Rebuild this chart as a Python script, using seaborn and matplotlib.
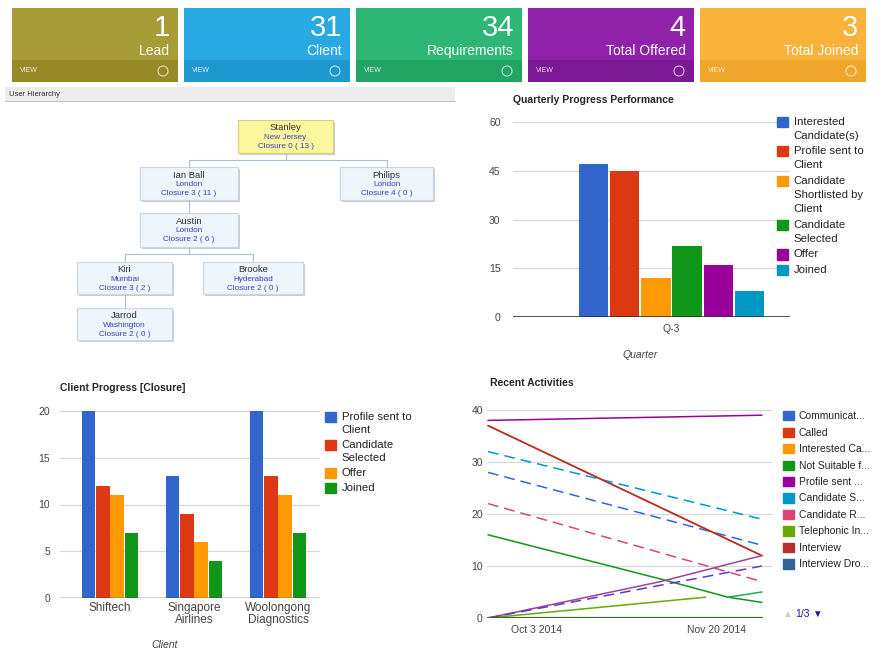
import matplotlib
matplotlib.use("Agg")
import matplotlib.pyplot as plt
from matplotlib.patches import Rectangle, Circle, Patch
import numpy as np
import pandas as pd
import seaborn as sns

nan = np.nan

# KPI tiles
tile_values = [1, 31, 34, 4, 3]
tile_labels = ["Lead", "Client", "Requirements", "Total Offered", "Total Joined"]
tile_colors = ["#a89c36", "#29a9e1", "#2db674", "#8f22a8", "#f9b33a"]
tile_band = ["#978a26", "#1f98d0", "#22a463", "#7b1894", "#f0a52b"]

# user hierarchy
node_names = ["Stanley", "Ian Ball", "Philips", "Austin", "Kiri", "Brooke", "Jarrod"]
node_cities = ["New Jersey", "London", "London", "London", "Mumbai", "Hyderabad", "Washington"]
node_closures = ["Closure 0 ( 13 )", "Closure 3 ( 11 )", "Closure 4 ( 0 )", "Closure 2 ( 6 )",
                 "Closure 3 ( 2 )", "Closure 2 ( 0 )", "Closure 2 ( 0 )"]
node_parents = [None, 0, 0, 1, 3, 3, 4]

# quarterly progress
quarters = ["Q-3"]
quarter_stages = ["Interested Candidate(s)", "Profile sent to Client", "Candidate Shortlisted by Client",
                  "Candidate Selected", "Offer", "Joined"]
quarter_legend = ["Interested\nCandidate(s)", "Profile sent to\nClient", "Candidate\nShortlisted by\nClient",
                  "Candidate\nSelected", "Offer", "Joined"]
quarter_counts = [47, 45, 12, 22, 16, 8]

# client progress
clients = ["Shiftech", "Singapore\nAirlines", "Woolongong\nDiagnostics"]
client_stages = ["Profile sent to Client", "Candidate Selected", "Offer", "Joined"]
client_legend = ["Profile sent to\nClient", "Candidate\nSelected", "Offer", "Joined"]
profile_sent = [20, 13, 20]
cand_selected = [12, 9, 13]
offer = [11, 6, 11]
joined = [7, 4, 7]

# recent activities
act_dates = ["2014-09-20", "2014-11-05", "2014-11-17", "2014-11-23", "2014-12-02"]
communication = [28, nan, nan, nan, 14]
called = [37, nan, nan, nan, 12]
interested = [0, nan, nan, nan, 0]
not_suitable = [16, 7.5, nan, 4, 3]
profile = [38, nan, nan, nan, 39]
cand_short = [32, nan, nan, nan, 19]
cand_rejected = [22, nan, nan, nan, 7]
telephonic = [0, nan, 4, nan, nan]
interview = [37, nan, nan, nan, 12]
interview_drop = [0, nan, nan, nan, 0]
offer_made = [0, 7, nan, nan, 12]
follow_up = [0, nan, nan, nan, 10]
on_hold = [nan, nan, nan, 4, 5]
others = [0, nan, nan, nan, 0]
act_legend = ["Communicat...", "Called", "Interested Ca...", "Not Suitable f...", "Profile sent ...",
              "Candidate S...", "Candidate R...", "Telephonic In...", "Interview", "Interview Dro..."]

W, H = 893, 653
GOOGLE = ["#3366cc", "#dc3912", "#ff9900", "#109618", "#990099", "#0099c6", "#dd4477",
          "#66aa00", "#b82e2e", "#316395"]

sns.set_theme(style="white")
plt.rcParams["font.family"] = ["Liberation Sans", "DejaVu Sans"]


def frac(l, t, r, b):
    return [l / W, 1 - b / H, (r - l) / W, (b - t) / H]


def ftext(x, y, s, **kw):
    fig.text(x / W, 1 - y / H, s, **kw)


def style_axes(ax, yticks, pad):
    ax.set_yticks(yticks)
    ax.grid(axis="y", color="#d6d6d6", lw=0.8)
    ax.grid(axis="x", visible=False)
    ax.set_axisbelow(True)
    for s in ax.spines.values():
        s.set_visible(False)
    ax.tick_params(length=0, labelsize=7.5, colors="#444444")
    ax.tick_params(axis="y", pad=pad)
    ax.set_xlabel("")
    ax.set_ylabel("")


def square_legend(colors, labels, x, y, size, spacing, linesp):
    leg = fig.legend(handles=[Patch(color=c) for c in colors], labels=labels,
                     loc="upper left", bbox_to_anchor=(x / W, 1 - y / H), frameon=False,
                     fontsize=size, handlelength=1.0, handleheight=1.0, handletextpad=0.5,
                     labelspacing=spacing, borderaxespad=0, labelcolor="#222222")
    for t in leg.get_texts():
        t.set_linespacing(linesp)
    # squares next to the first line of wrapped labels
    for col in leg._legend_handle_box.get_children():
        for row in col.get_children():
            row.align = "top"
    return leg


fig = plt.figure(figsize=(W / 100, H / 100), dpi=100)

# overlay for tiles and hierarchy
ov = fig.add_axes([0, 0, 1, 1])
ov.set_xlim(0, W)
ov.set_ylim(H, 0)
ov.axis("off")

for i, (val, lab) in enumerate(zip(tile_values, tile_labels)):
    x0 = 12 + i * 172
    ov.add_patch(Rectangle((x0, 8), 166, 52, color=tile_colors[i], lw=0))
    ov.add_patch(Rectangle((x0, 60), 166, 22, color=tile_band[i], lw=0))
    ov.text(x0 + 158, 28, str(val), ha="right", va="center", fontsize=21, color="white")
    ov.text(x0 + 158, 51, lab, ha="right", va="center", fontsize=10, color="white")
    ov.text(x0 + 8, 71, "VIEW", ha="left", va="center", fontsize=5, color="white", alpha=0.85)
    ov.add_patch(Circle((x0 + 151, 71), 5, fill=False, ec="white", lw=0.8, alpha=0.7))

ov.add_patch(Rectangle((5, 87), 450, 14, fc="#ededed", ec="none"))
ov.plot([5, 455], [101, 101], color="#c4c4c4", lw=0.8)
ov.text(9, 94, "User Hierarchy", fontsize=5.5, color="#333333", va="center")

node_boxes = [(238, 120, 333, 153), (140, 167, 238, 200), (340, 167, 433, 200),
              (140, 213, 238, 247), (77, 262, 172, 294), (203, 262, 303, 294),
              (77, 308, 172, 340)]
line_c = "#a9bfd3"
# connectors
ov.plot([285.5, 285.5], [153, 160], color=line_c, lw=0.8)
ov.plot([189, 386.5], [160, 160], color=line_c, lw=0.8)
ov.plot([189, 189], [160, 167], color=line_c, lw=0.8)
ov.plot([386.5, 386.5], [160, 167], color=line_c, lw=0.8)
ov.plot([189, 189], [200, 213], color=line_c, lw=0.8)
ov.plot([189, 189], [247, 254], color=line_c, lw=0.8)
ov.plot([124.5, 253], [254, 254], color=line_c, lw=0.8)
ov.plot([124.5, 124.5], [254, 262], color=line_c, lw=0.8)
ov.plot([253, 253], [254, 262], color=line_c, lw=0.8)
ov.plot([124.5, 124.5], [294, 308], color=line_c, lw=0.8)

for i, (l, t, r, b) in enumerate(node_boxes):
    root = node_parents[i] is None
    ov.add_patch(Rectangle((l + 2, t + 2), r - l, b - t, fc="#c9ced6", ec="none"))
    ov.add_patch(Rectangle((l, t), r - l, b - t, fc="#fbf79c" if root else "#eef5fb",
                           ec="#d8d07a" if root else "#c9d6e3", lw=0.8))
    cx = (l + r) / 2
    ov.text(cx, t + 8, node_names[i], ha="center", va="center", fontsize=6.8, color="#333333")
    ov.text(cx, t + 17.5, node_cities[i], ha="center", va="center", fontsize=5.9, color="#3b3bc4")
    ov.text(cx, t + 26.5, node_closures[i], ha="center", va="center", fontsize=5.9, color="#3b3bc4")

# quarterly progress performance
axq = fig.add_axes(frac(513, 122, 790, 317))
qdf = pd.DataFrame({"quarter": quarters * len(quarter_stages), "stage": quarter_stages,
                    "count": quarter_counts})
sns.barplot(data=qdf, x="quarter", y="count", hue="stage", hue_order=quarter_stages,
            palette=GOOGLE[:6], width=0.675, gap=0.06, saturation=1, legend=False,
            linewidth=0, ax=axq)
axq.set_ylim(0, 60)
axq.set_xlim(-0.572, 0.428)
style_axes(axq, [0, 15, 30, 45, 60], 9)
axq.axhline(0, color="#333333", lw=1.2)
axq.tick_params(axis="x", pad=5)
ftext(513, 100, "Quarterly Progress Performance", fontsize=7.5, fontweight="bold", va="center")
ftext(640, 355, "Quarter", fontsize=7.5, style="italic", color="#444444", ha="center", va="center")
square_legend(GOOGLE[:6], quarter_legend, 772, 112, 8.2, 0.5, 1.5)

# client progress
axc = fig.add_axes(frac(60, 411, 320, 598))
cdf = pd.DataFrame({
    "client": clients * 4,
    "stage": np.repeat(client_stages, len(clients)),
    "count": profile_sent + cand_selected + offer + joined,
})
client_colors = [GOOGLE[0], GOOGLE[1], GOOGLE[2], GOOGLE[3]]
sns.barplot(data=cdf, x="client", y="count", hue="stage", hue_order=client_stages, order=clients,
            palette=client_colors, width=0.68, gap=0.06, saturation=1, legend=False,
            linewidth=0, ax=axc)
axc.set_ylim(0, 20)
axc.set_xlim(-0.595, 2.5)
style_axes(axc, [0, 5, 10, 15, 20], 7)
axc.axhline(0, color="#333333", lw=1.0)
axc.tick_params(axis="x", labelsize=8.5, pad=3)
for t in axc.get_xticklabels():
    t.set_linespacing(1.0)
ftext(60, 388, "Client Progress [Closure]", fontsize=7.5, fontweight="bold", va="center")
ftext(165, 645, "Client", fontsize=7.5, style="italic", color="#444444", ha="center", va="center")
square_legend(client_colors, client_legend, 320, 407, 8.2, 0.4, 1.45)

# recent activities
axr = fig.add_axes(frac(487, 410, 772, 618))
dates = pd.to_datetime(act_dates)
act_series = [communication, called, interested, not_suitable, profile, cand_short,
              cand_rejected, telephonic, interview, interview_drop,
              offer_made, follow_up, on_hold, others]
act_colors = GOOGLE + ["#994499", "#6633cc", "#22aa55", "#3a6b24"]
act_dash = [True, False, False, False, False, True, True, False, False, True,
            False, True, False, False]
for vals, col, dashed in zip(act_series, act_colors, act_dash):
    ls = (0, (7, 4)) if dashed else "-"
    lw = 1.6 if col == "#3a6b24" else 1.1
    sns.lineplot(x=dates, y=vals, color=col, linestyle=ls, lw=lw, ax=axr)
axr.set_ylim(0, 40)
day = pd.Timedelta(days=1)
axr.set_xlim(dates[0] - 0.27 * day, dates[-1] + 2.7 * day)
style_axes(axr, [0, 10, 20, 30, 40], 3)
axr.set_xticks(pd.to_datetime(["2014-10-03", "2014-11-20"]))
axr.set_xticklabels(["Oct 3 2014", "Nov 20 2014"])
axr.tick_params(axis="x", pad=5)
ftext(490, 383, "Recent Activities", fontsize=7.5, fontweight="bold", va="center")
square_legend(GOOGLE, act_legend, 779, 407, 7.5, 0.62, 1.2)
ftext(782, 614, "\u25b2", fontsize=7, color="#cccccc", va="center")
ftext(795, 614, "1/3", fontsize=7.5, color="#1a1aa6", va="center")
ftext(812, 614, "\u25bc", fontsize=7, color="#1a1aa6", va="center")

fig.savefig("out.png", dpi=100)
